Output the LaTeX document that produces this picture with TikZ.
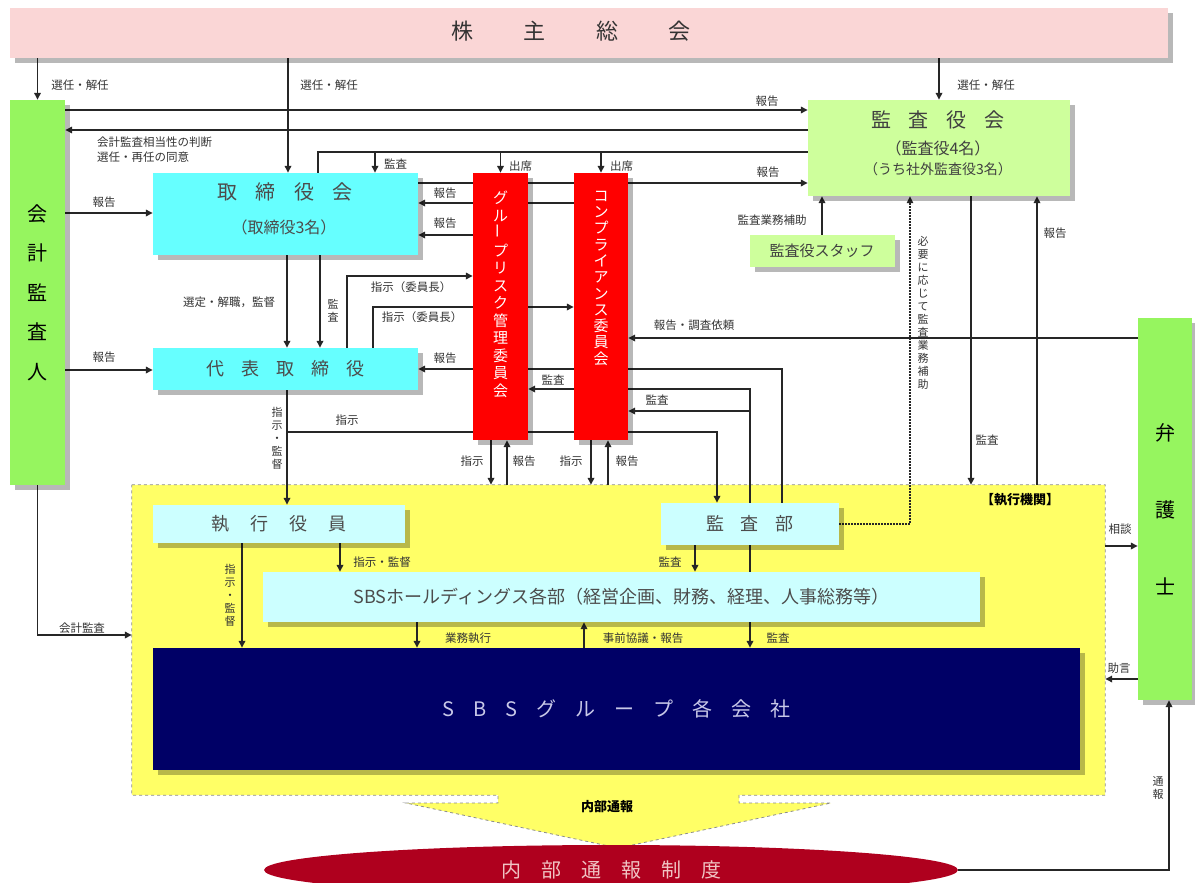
\documentclass[tikz,border=0pt]{standalone}
\usepackage{fontspec}
\setmainfont{Noto Sans CJK JP}
\usepackage{graphicx}
\usetikzlibrary{arrows.meta, shadows, shapes.geometric}

\definecolor{kabupink}{RGB}{250,214,214}
\definecolor{kaikeigreen}{RGB}{150,245,95}
\definecolor{kansagreen}{RGB}{206,255,156}
\definecolor{toricyan}{RGB}{102,255,255}
\definecolor{execcyan}{RGB}{204,255,255}
\definecolor{execyellow}{RGB}{255,255,102}
\definecolor{groupnavy}{RGB}{0,0,102}
\definecolor{groupfont}{RGB}{200,200,232}
\definecolor{naibured}{RGB}{175,0,30}
\definecolor{naibufont}{RGB}{240,195,195}

\newcommand{\jsize}[1]{\fontsize{#1}{#1}\selectfont}

\pgfdeclarelayer{back}
\pgfdeclarelayer{wires}
\pgfsetlayers{back,wires,main}

\tikzset{
	box/.style={inner sep=0pt, drop shadow={shadow xshift=5pt, shadow yshift=-5pt, fill=black, opacity=0.28}},
	conn/.style={line width=1.6pt, draw=black!85, -{Triangle[length=7pt, width=6.5pt]}},
	wire/.style={line width=1.6pt, draw=black!85},
	lbl/.style={inner sep=0pt, text=black!80, font=\fontsize{11.5}{13}\selectfont},
	vlbl/.style={lbl, align=center, font=\fontsize{11}{13}\selectfont},
	tate/.style={inner sep=0pt, align=center, text=white, font=\fontsize{15}{17.5}\selectfont},
}

\begin{document}
\begin{tikzpicture}[x=1pt, y=-1pt]
	\useasboundingbox (0,0) rectangle (1195,883);

	% shareholders
	\node[box, fill=kabupink, minimum width=1158pt, minimum height=50pt] (kabunushi) at (589,33) {};
	\node[font=\jsize{22}, text=black!80] (kabunushi-t) at (571,31) {株\hspace{2.3em}主\hspace{2.3em}総\hspace{2.3em}会};

	% side columns
	\node[box, fill=kaikeigreen, minimum width=55pt, minimum height=385pt, align=center, font=\fontsize{20}{39.5}\selectfont] (kaikei) at (37.5,292.5) {会\\計\\監\\査\\人};
	\node[box, fill=kaikeigreen, minimum width=54pt, minimum height=382pt, align=center, font=\fontsize{20}{77}\selectfont] (bengoshi) at (1165,509) {弁\\護\\士};

	% audit board
	\node[box, fill=kansagreen, minimum width=262pt, minimum height=96pt] (kansayaku) at (939,148) {};
	\node[font=\jsize{20}, text=black!75] (kansayaku-t) at (938,120) {監\hspace{0.9em}査\hspace{0.9em}役\hspace{0.9em}会};
	\node[font=\jsize{16}, text=black!75] (kansayaku-n) at (938,148) {（監査役4名）};
	\node[font=\jsize{14}, text=black!75] (kansayaku-s) at (938,169) {（うち社外監査役3名）};
	\node[box, fill=kansagreen, minimum width=145pt, minimum height=32pt, font=\jsize{15}, text=black!75] (staff) at (822,251) {監査役スタッフ};

	% board of directors
	\node[box, fill=toricyan, minimum width=265pt, minimum height=82pt] (tori) at (285.5,214) {};
	\node[font=\jsize{20}, text=black!70] (tori-t) at (285,192) {取\hspace{0.93em}締\hspace{0.93em}役\hspace{0.93em}会};
	\node[font=\jsize{16}, text=black!70] (tori-n) at (284,227) {（取締役3名）};
	\node[box, fill=toricyan, minimum width=265pt, minimum height=42pt, font=\jsize{18}, text=black!70] (daihyo) at (285.5,369) {代\hspace{0.95em}表\hspace{0.95em}取\hspace{0.95em}締\hspace{0.95em}役};

	% committees
	\node[box, fill=red, minimum width=55pt, minimum height=267pt] (risk) at (500.5,306.5) {};
	\node[tate, anchor=north] (risk-t) at ([yshift=-18pt]risk.north) {グ\\ル\\\rotatebox{90}{ー}\\プ\\リ\\ス\\ク\\管\\理\\委\\員\\会};
	\node[box, fill=red, minimum width=54pt, minimum height=267pt] (comp) at (601,306.5) {};
	\node[tate, anchor=north, font=\fontsize{15}{16.3}\selectfont] (comp-t) at ([yshift=-18pt]comp.north) {コ\\ン\\プ\\ラ\\イ\\ア\\ン\\ス\\委\\員\\会};

	% execution area
	\node[minimum width=973pt, minimum height=310pt, inner sep=0pt] (exec) at (618.5,640) {};
	\node[font=\jsize{13}\bfseries] (exec-t) at (1020,500) {【執行機関】};
	\node[box, fill=execcyan, minimum width=252pt, minimum height=38pt, font=\jsize{18}, text=black!70] (shikko) at (279,524) {執\hspace{1.15em}行\hspace{1.15em}役\hspace{1.15em}員};
	\node[box, fill=execcyan, minimum width=178pt, minimum height=42pt, font=\jsize{18}, text=black!70] (kansabu) at (750,524) {監\hspace{0.9em}査\hspace{0.9em}部};
	\node[box, fill=execcyan, minimum width=717pt, minimum height=50pt, font=\jsize{18}, text=black!70] (hd) at (621.5,597) {SBSホールディングス各部（経営企画、財務、経理、人事総務等）};
	\node[box, fill=groupnavy, minimum width=927pt, minimum height=122pt, font=\jsize{20}, text=groupfont] (group) at (616.5,709) {S\hspace{0.95em}B\hspace{0.95em}S\hspace{0.95em}グ\hspace{0.95em}ル\hspace{0.95em}ー\hspace{0.95em}プ\hspace{0.95em}各\hspace{0.95em}会\hspace{0.95em}社};

	% internal reporting
	\node[ellipse, fill=naibured, minimum width=694pt, minimum height=50pt, inner sep=0pt, font=\jsize{20}, text=naibufont] (naibu) at (611,870) {内\hspace{1em}部\hspace{1em}通\hspace{1em}報\hspace{1em}制\hspace{1em}度};
	\node[font=\jsize{13}\bfseries] (naibu-t) at (607,807) {内部通報};

	\begin{pgfonlayer}{back}
		\draw[fill=execyellow, draw=black!45, dashed, line width=0.8pt] (exec.north west) -- (exec.north east) -- (exec.south east) -- (739,0 |- exec.south) -- (739,803) -- (831,803) -- (618,848) -- (406,803) -- (498,803) -- (498,0 |- exec.south) -- (exec.south west) -- cycle;
	\end{pgfonlayer}

	\begin{pgfonlayer}{wires}
		% election
		\draw[conn] (kaikei.north |- kabunushi.south) -- (kaikei.north);
		\draw[conn] (288,0 |- kabunushi.south) -- (288,0 |- tori.north);
		\draw[conn] (kansayaku.north |- kabunushi.south) -- (kansayaku.north);
		% auditor and audit board
		\draw[conn] (kaikei.east |- 0,110) -- (kansayaku.west |- 0,110);
		\draw[conn] (kansayaku.west |- 0,130) -- (kaikei.east |- 0,130);
		% attendance
		\draw[wire] (kansayaku.west |- 0,152) -- (318,152) -- (318,0 |- tori.north);
		\draw[conn] (375,152) -- (375,0 |- tori.north);
		\draw[conn] (risk.north |- 0,152) -- (risk.north);
		\draw[conn] (comp.north |- 0,152) -- (comp.north);
		% reports
		\draw[conn] (tori.east |- 0,183) -- (kansayaku.west |- 0,183);
		\draw[conn] (comp.west |- 0,203) -- (tori.east |- 0,203);
		\draw[conn] (risk.west |- 0,235) -- (tori.east |- 0,235);
		\draw[conn] (kaikei.east |- 0,213) -- (tori.west |- 0,213);
		\draw[conn] (kaikei.east |- 0,370) -- (daihyo.west |- 0,370);
		% board to representative
		\draw[conn] (287,0 |- tori.south) -- (287,0 |- daihyo.north);
		\draw[conn] (320,0 |- tori.south) -- (320,0 |- daihyo.north);
		\draw[conn] (347,0 |- daihyo.north) |- (risk.west |- 0,276);
		\draw[conn] (373,0 |- daihyo.north) |- (comp.west |- 0,307);
		% audit department
		\draw[conn] (782,0 |- kansabu.north) |- (daihyo.east |- 0,369);
		\draw[conn] (750,0 |- kansabu.north) |- (risk.east |- 0,389);
		\draw[conn] (750,411) -- (comp.east |- 0,411);
		\draw[conn] (287,0 |- daihyo.south) -- (287,0 |- shikko.north);
		\draw[conn] (287,432) -| (717,0 |- kansabu.north);
		% committees to execution
		\draw[conn] (491,0 |- risk.south) -- (491,0 |- exec.north);
		\draw[conn] (507,0 |- exec.north) -- (507,0 |- risk.south);
		\draw[conn] (591,0 |- comp.south) -- (591,0 |- exec.north);
		\draw[conn] (608,0 |- exec.north) -- (608,0 |- comp.south);
		% lawyer
		\draw[conn] (bengoshi.west |- 0,338) -- (comp.east |- 0,338);
		% audit board and execution
		\draw[conn] (971,0 |- kansayaku.south) -- (971,0 |- exec.north);
		\draw[conn] (1037,0 |- exec.north) -- (1037,0 |- kansayaku.south);
		\draw[conn] (staff.north) -- (staff.north |- kansayaku.south);
		\draw[conn, line width=1.2pt, dash pattern=on 1.6pt off 1.4pt] (kansabu.east) -| (910,0 |- kansayaku.south);
		\draw[conn] (kaikei.south) |- (exec.west |- 0,635);
		% inside execution
		\draw[conn] (340,0 |- shikko.south) -- (340,0 |- hd.north);
		\draw[conn] (242,0 |- shikko.south) -- (242,0 |- group.north);
		\draw[conn] (695,0 |- kansabu.south) -- (695,0 |- hd.north);
		\draw[conn] (750,0 |- kansabu.south) -- (750,0 |- group.north);
		\draw[conn] (417,0 |- hd.south) -- (417,0 |- group.north);
		\draw[conn] (584,0 |- group.north) -- (584,0 |- hd.south);
		% lawyer and execution
		\draw[conn] (exec.east |- 0,546) -- (bengoshi.west |- 0,546);
		\draw[conn] (bengoshi.west |- 0,679) -- (exec.east |- 0,679);
		\draw[conn] (naibu.east) -| (1169,0 |- bengoshi.south);
	\end{pgfonlayer}

	% labels
	\node[lbl] (l-sen1) at (80,85) {選任・解任};
	\node[lbl] (l-sen2) at (329,85) {選任・解任};
	\node[lbl] (l-sen3) at (986,85) {選任・解任};
	\node[lbl] (l-hk1) at (767,101) {報告};
	\node[lbl, anchor=west] (l-hantei) at (97,142) {会計監査相当性の判断};
	\node[lbl, anchor=west] (l-doui) at (97,157) {選任・再任の同意};
	\node[lbl, anchor=west] (l-ks1) at (384,164) {監査};
	\node[lbl, anchor=west] (l-ss1) at (509,166) {出席};
	\node[lbl, anchor=west] (l-ss2) at (610,166) {出席};
	\node[lbl] (l-hk2) at (768,172) {報告};
	\node[lbl] (l-hk3) at (445,193) {報告};
	\node[lbl] (l-hk4) at (445,223) {報告};
	\node[lbl] (l-hk5) at (104,202) {報告};
	\node[lbl] (l-hk6) at (104,357) {報告};
	\node[lbl] (l-sentei) at (229,302) {選定・解職，監督};
	\node[vlbl] (l-ks2) at (333,311) {監\\査};
	\node[lbl] (l-iin1) at (411,287) {指示（委員長）};
	\node[lbl] (l-iin2) at (422,317) {指示（委員長）};
	\node[lbl] (l-hk7) at (445,358) {報告};
	\node[lbl] (l-ks3) at (553,380) {監査};
	\node[lbl] (l-ks4) at (657,400) {監査};
	\node[lbl] (l-chosa) at (694,325) {報告・調査依頼};
	\node[vlbl] (l-sk1) at (277,438) {指\\示\\・\\監\\督};
	\node[lbl] (l-sj1) at (347,420) {指示};
	\node[lbl] (l-sj2) at (472,461) {指示};
	\node[lbl] (l-hk8) at (524,461) {報告};
	\node[lbl] (l-sj3) at (571,461) {指示};
	\node[lbl] (l-hk9) at (627,461) {報告};
	\node[lbl] (l-hojo) at (772,220) {監査業務補助};
	\node[vlbl] (l-hitsuyo) at (923,313) {必\\要\\に\\応\\じ\\て\\監\\査\\業\\務\\補\\助};
	\node[lbl] (l-ks5) at (987,440) {監査};
	\node[lbl] (l-hk10) at (1055,233) {報告};
	\node[lbl] (l-kaikei) at (82,628) {会計監査};
	\node[lbl] (l-sk2) at (382,562) {指示・監督};
	\node[vlbl] (l-sk3) at (230,595) {指\\示\\・\\監\\督};
	\node[lbl] (l-ks6) at (670,562) {監査};
	\node[lbl] (l-gyomu) at (468,638) {業務執行};
	\node[lbl] (l-jizen) at (643,638) {事前協議・報告};
	\node[lbl] (l-ks7) at (778,638) {監査};
	\node[lbl] (l-sodan) at (1120,529) {相談};
	\node[lbl] (l-jogen) at (1119,668) {助言};
	\node[vlbl] (l-tsuho) at (1158,788) {通\\報};
\end{tikzpicture}
\end{document}
